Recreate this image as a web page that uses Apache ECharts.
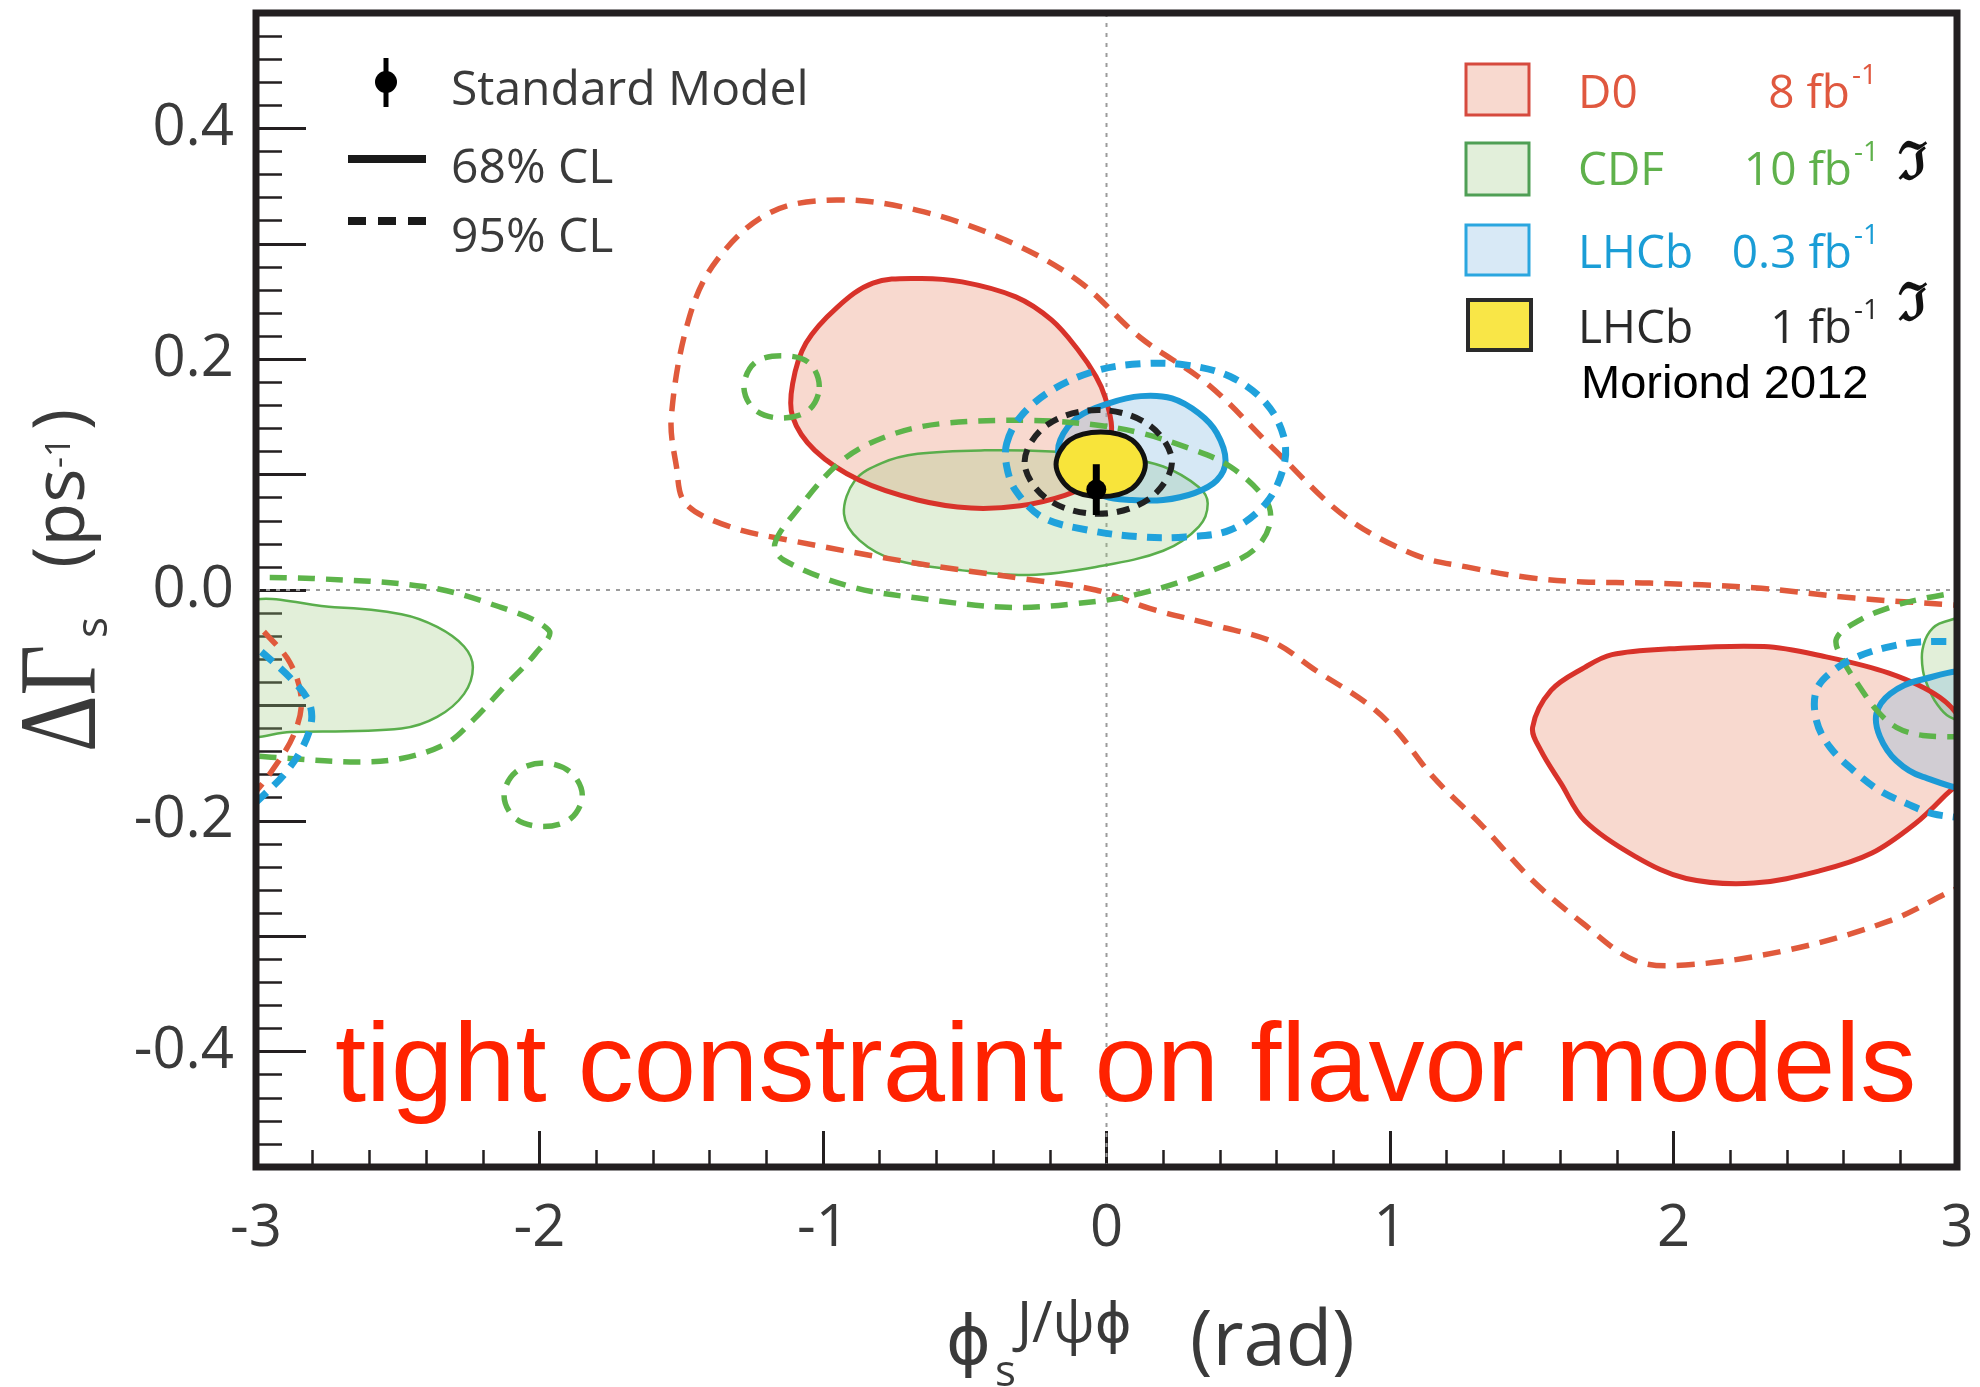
<!DOCTYPE html>
<html>
<head>
<meta charset="utf-8">
<script src="https://cdn.jsdelivr.net/npm/echarts/dist/echarts.min.js"></script>
<style>
  html, body { margin: 0; padding: 0; background: #ffffff; }
  #chart { width: 1980px; height: 1387px; }
</style>
</head>
<body>
<div id="chart"></div>
<script>
// ---------------- data ----------------
var xTickValues = [-3, -2, -1, 0, 1, 2, 3];
var yLabelValues = ['0.4', '0.2', '0.0', '-0.2', '-0.4'];

// Standard Model expectation
var smPoint = [-0.036, 0.087];
var smError = 0.022;

// D0 8 fb-1
var d0Cl68Upper = [[-0.666,0.270],[-0.509,0.267],[-0.320,0.254],[-0.194,0.234],[-0.100,0.208],[-0.037,0.185],[-0.005,0.167],[0.018,0.141],[0.000,0.115],[-0.060,0.093],[-0.147,0.082],[-0.304,0.073],[-0.478,0.071],[-0.666,0.078],[-0.871,0.095],[-1.029,0.121],[-1.107,0.150],[-1.107,0.179],[-1.060,0.214],[-0.950,0.245],[-0.824,0.266]];
var d0Cl68Lower = [[1.503,-0.119],[1.568,-0.087],[1.687,-0.067],[1.783,-0.056],[1.985,-0.051],[2.319,-0.049],[2.521,-0.057],[2.760,-0.072],[2.939,-0.093],[3.020,-0.118],[3.020,-0.160],[2.950,-0.180],[2.850,-0.203],[2.700,-0.228],[2.521,-0.243],[2.283,-0.254],[2.045,-0.250],[1.866,-0.231],[1.687,-0.200],[1.604,-0.168],[1.532,-0.139]];
var d0Cl95Main = [[3.050,-0.014],[2.987,-0.013],[2.639,-0.007],[2.283,0.002],[1.916,0.006],[1.681,0.007],[1.481,0.011],[1.270,0.020],[1.093,0.030],[0.845,0.063],[0.595,0.121],[0.359,0.178],[0.118,0.219],[-0.100,0.268],[-0.354,0.303],[-0.666,0.329],[-0.951,0.338],[-1.187,0.327],[-1.374,0.286],[-1.472,0.236],[-1.535,0.150],[-1.517,0.107],[-1.485,0.075],[-1.330,0.055],[-1.138,0.044],[-0.666,0.023],[-0.300,0.010],[-0.038,0.000],[0.152,-0.016],[0.388,-0.031],[0.587,-0.045],[0.740,-0.070],[0.917,-0.098],[1.023,-0.122],[1.152,-0.162],[1.328,-0.205],[1.504,-0.252],[1.681,-0.289],[1.864,-0.321],[2.042,-0.325],[2.403,-0.312],[2.759,-0.287],[2.987,-0.260],[3.050,-0.254]];
var d0Cl95Left = [[-3.050,-0.020],[-3.013,-0.027],[-2.965,-0.038],[-2.880,-0.063],[-2.840,-0.095],[-2.866,-0.125],[-2.942,-0.156],[-3.013,-0.178],[-3.050,-0.185]];

// CDF 10 fb-1
var cdfCl68Center = [[-0.926,0.066],[-0.887,0.095],[-0.793,0.110],[-0.666,0.118],[-0.430,0.121],[-0.194,0.120],[0.042,0.115],[0.200,0.107],[0.326,0.089],[0.357,0.075],[0.326,0.055],[0.200,0.034],[-0.037,0.020],[-0.273,0.013],[-0.509,0.017],[-0.745,0.026],[-0.871,0.043]];
var cdfCl68Left = [[-3.050,-0.015],[-2.723,-0.015],[-2.487,-0.021],[-2.361,-0.032],[-2.266,-0.049],[-2.235,-0.067],[-2.266,-0.090],[-2.361,-0.110],[-2.487,-0.120],[-2.880,-0.123],[-3.050,-0.123]];
var cdfCl68Right = [[3.050,-0.026],[2.951,-0.028],[2.904,-0.036],[2.878,-0.052],[2.880,-0.070],[2.898,-0.084],[2.927,-0.098],[2.974,-0.110],[3.050,-0.113]];
var cdfCl95Center = [[-1.170,0.040],[-1.092,0.069],[-0.934,0.112],[-0.777,0.133],[-0.588,0.144],[-0.273,0.147],[-0.037,0.143],[0.121,0.136],[0.278,0.124],[0.436,0.107],[0.562,0.078],[0.577,0.058],[0.530,0.037],[0.436,0.023],[0.121,-0.003],[-0.115,-0.012],[-0.352,-0.015],[-0.666,-0.007],[-0.903,0.003],[-1.139,0.026]];
var cdfCl95IslandA = [[-1.013,0.176],[-1.050,0.197],[-1.146,0.203],[-1.240,0.197],[-1.279,0.176],[-1.240,0.156],[-1.146,0.149],[-1.050,0.156]];
var cdfCl95IslandB = [[-1.849,-0.178],[-1.890,-0.158],[-1.987,-0.150],[-2.085,-0.158],[-2.125,-0.178],[-2.085,-0.198],[-1.987,-0.205],[-1.890,-0.198]];
var cdfCl95Left = [[-3.050,0.011],[-2.802,0.010],[-2.408,0.003],[-2.172,-0.012],[-1.967,-0.035],[-2.014,-0.055],[-2.125,-0.084],[-2.235,-0.113],[-2.329,-0.133],[-2.487,-0.146],[-2.644,-0.149],[-2.880,-0.146],[-3.050,-0.143]];
var cdfCl95Right = [[3.050,0.000],[2.869,-0.008],[2.764,-0.015],[2.657,-0.026],[2.575,-0.042],[2.598,-0.061],[2.657,-0.084],[2.716,-0.104],[2.786,-0.119],[2.880,-0.126],[3.050,-0.127]];

// LHCb 0.3 fb-1
var lhcb03Cl68Center = [[-0.163,0.130],[-0.100,0.150],[0.011,0.162],[0.121,0.168],[0.231,0.166],[0.326,0.153],[0.389,0.136],[0.420,0.112],[0.389,0.095],[0.310,0.084],[0.200,0.078],[0.089,0.078],[-0.005,0.081],[-0.100,0.095],[-0.163,0.112]];
var lhcb03Cl68Right = [[3.050,-0.075],[2.869,-0.078],[2.764,-0.090],[2.716,-0.107],[2.728,-0.127],[2.786,-0.148],[2.880,-0.162],[3.050,-0.168]];
var lhcb03Cl95Center = [[-0.352,0.127],[-0.304,0.150],[-0.194,0.173],[-0.037,0.190],[0.121,0.196],[0.278,0.195],[0.436,0.185],[0.562,0.162],[0.625,0.133],[0.625,0.107],[0.562,0.075],[0.436,0.052],[0.278,0.046],[0.121,0.046],[-0.068,0.052],[-0.226,0.063],[-0.320,0.086],[-0.352,0.107]];
var lhcb03Cl95Right = [[3.050,-0.045],[2.869,-0.045],[2.764,-0.049],[2.657,-0.057],[2.563,-0.070],[2.504,-0.087],[2.504,-0.113],[2.551,-0.136],[2.633,-0.156],[2.728,-0.174],[2.822,-0.185],[2.916,-0.194],[3.050,-0.198]];
var lhcb03Cl95Left = [[-3.050,-0.040],[-3.013,-0.047],[-2.960,-0.058],[-2.880,-0.076],[-2.817,-0.095],[-2.804,-0.113],[-2.835,-0.136],[-2.898,-0.159],[-2.978,-0.179],[-3.050,-0.195]];

// LHCb 1 fb-1
var lhcb1Cl68 = [[-0.178,0.109],[-0.130,0.130],[-0.020,0.137],[0.090,0.130],[0.137,0.109],[0.090,0.088],[-0.020,0.081],[-0.130,0.088]];
var lhcb1Cl95 = [[-0.289,0.111],[-0.210,0.143],[-0.029,0.156],[0.150,0.143],[0.231,0.111],[0.150,0.079],[-0.029,0.066],[-0.210,0.079]];

// zero reference lines
var zeroLineV = [[0, -0.5], [0, 0.5]];
var zeroLineH = [[-3, 0], [3, 0]];

// ---------------- styling ----------------
var SANS = "'Open Sans', 'DejaVu Sans', sans-serif";
var AX = '#231f20';
var C = {
  d0Fill: 'rgba(232,128,95,0.30)', d0Line: '#d8322a', d0Dash: '#e05a3c',
  cdfFill: 'rgba(158,202,128,0.30)', cdfLine: '#5aae4c', cdfDash: '#5db44a',
  lhFill: 'rgba(118,178,222,0.30)', lhLine: '#1c9ad6', lhDash: '#20a2dc',
  yellow: '#f8e43a'
};

function contour(pts, o) {
  return {
    type: 'custom',
    coordinateSystem: 'cartesian2d',
    clip: true,
    silent: true,
    z: o.z || 2,
    data: [pts[0]],
    encode: { x: 0, y: 1 },
    renderItem: function (params, api) {
      var p = pts.map(function (d) { return api.coord(d); });
      return {
        type: o.closed ? 'polygon' : 'polyline',
        shape: { points: p, smooth: o.smooth == null ? 0.35 : o.smooth },
        style: {
          fill: o.fill || 'none',
          stroke: o.stroke || 'none',
          lineWidth: o.width || 0,
          lineDash: o.dash || null,
          lineJoin: 'round'
        }
      };
    }
  };
}

function refLine(data) {
  return {
    type: 'line', data: data, symbol: 'none', silent: true, z: 1,
    lineStyle: { color: '#9c9c9c', width: 2, type: [4, 6] }
  };
}

var DASH_R = [18, 11], DASH_G = [17, 11], DASH_B = [15, 10];
var series = [
  refLine(zeroLineV),
  refLine(zeroLineH),
  // 68% filled regions
  contour(d0Cl68Upper, { closed: true, fill: C.d0Fill }),
  contour(d0Cl68Lower, { closed: true, fill: C.d0Fill }),
  contour(cdfCl68Center, { closed: true, fill: C.cdfFill }),
  contour(cdfCl68Left, { closed: true, fill: C.cdfFill }),
  contour(cdfCl68Right, { closed: true, fill: C.cdfFill }),
  contour(lhcb03Cl68Center, { closed: true, fill: C.lhFill }),
  contour(lhcb03Cl68Right, { closed: true, fill: C.lhFill }),
  // 68% outlines
  contour(cdfCl68Center, { closed: true, stroke: C.cdfLine, width: 2.5 }),
  contour(cdfCl68Left, { closed: true, stroke: C.cdfLine, width: 2.5 }),
  contour(cdfCl68Right, { closed: true, stroke: C.cdfLine, width: 2.5 }),
  contour(d0Cl68Upper, { closed: true, stroke: C.d0Line, width: 5 }),
  contour(d0Cl68Lower, { closed: true, stroke: C.d0Line, width: 5 }),
  contour(lhcb03Cl68Center, { closed: true, stroke: C.lhLine, width: 6 }),
  contour(lhcb03Cl68Right, { closed: true, stroke: C.lhLine, width: 6 }),
  // 95% dashed outlines
  contour(d0Cl95Main, { closed: false, stroke: C.d0Dash, width: 5.5, dash: DASH_R }),
  contour(d0Cl95Left, { closed: false, stroke: C.d0Dash, width: 5.5, dash: DASH_R }),
  contour(cdfCl95Center, { closed: true, stroke: C.cdfDash, width: 5.5, dash: DASH_G }),
  contour(cdfCl95IslandA, { closed: true, stroke: C.cdfDash, width: 5.5, dash: DASH_G }),
  contour(cdfCl95IslandB, { closed: true, stroke: C.cdfDash, width: 5.5, dash: DASH_G }),
  contour(cdfCl95Left, { closed: false, stroke: C.cdfDash, width: 5.5, dash: DASH_G }),
  contour(cdfCl95Right, { closed: false, stroke: C.cdfDash, width: 5.5, dash: DASH_G }),
  contour(lhcb03Cl95Center, { closed: true, stroke: C.lhDash, width: 7, dash: DASH_B }),
  contour(lhcb03Cl95Right, { closed: false, stroke: C.lhDash, width: 7, dash: DASH_B }),
  contour(lhcb03Cl95Left, { closed: false, stroke: C.lhDash, width: 7, dash: DASH_B }),
  // LHCb 1 fb-1
  contour(lhcb1Cl95, { closed: true, stroke: '#222222', width: 6, dash: [13, 9] }),
  contour(lhcb1Cl68, { closed: true, fill: C.yellow, stroke: '#111111', width: 5 }),
  // Standard Model point
  {
    type: 'custom', coordinateSystem: 'cartesian2d', silent: true, z: 5,
    data: [smPoint], encode: { x: 0, y: 1 },
    renderItem: function (params, api) {
      var c = api.coord(smPoint);
      var lo = api.coord([smPoint[0], smPoint[1] - smError]);
      var hi = api.coord([smPoint[0], smPoint[1] + smError]);
      return {
        type: 'group',
        children: [
          { type: 'line', shape: { x1: lo[0], y1: lo[1], x2: hi[0], y2: hi[1] }, style: { stroke: '#000', lineWidth: 7 } },
          { type: 'circle', shape: { cx: c[0], cy: c[1], r: 10 }, style: { fill: '#000' } }
        ]
      };
    }
  }
];

function txt(text, x, y, font, size, color, extra, weight) {
  var o = {
    type: 'text', x: x, y: y, z: 50, silent: true,
    style: { text: text, font: (weight ? weight + ' ' : '') + size + 'px ' + font, fill: color, align: 'left', verticalAlign: 'middle' }
  };
  if (extra) {
    for (var k in extra) {
      if (k === 'style') { for (var s in extra.style) o.style[s] = extra.style[s]; }
      else o[k] = extra[k];
    }
  }
  return o;
}

var GREY = '#3a3a3a';
var SERIF = "'Liberation Serif', 'DejaVu Serif', serif";
var ARIAL = "'Liberation Sans', Arial, sans-serif";
var DJ = "'DejaVu Sans', sans-serif";
var ROT = { rotation: Math.PI / 2 };
var RIGHT = { style: { align: 'right' } };

var graphics = [
  // ----- upper-left legend -----
  { type: 'line', z: 50, silent: true, shape: { x1: 386, y1: 58, x2: 386, y2: 107 }, style: { stroke: '#000', lineWidth: 5 } },
  { type: 'circle', z: 50, silent: true, shape: { cx: 386, cy: 82, r: 11 }, style: { fill: '#000' } },
  txt('Standard Model', 451, 105 - 0.285 * 48, SANS, 48, GREY),
  { type: 'line', z: 50, silent: true, shape: { x1: 348, y1: 159, x2: 426, y2: 159 }, style: { stroke: '#1a1a1a', lineWidth: 8 } },
  txt('68% CL', 451, 183 - 0.285 * 48, SANS, 48, GREY),
  { type: 'line', z: 50, silent: true, shape: { x1: 348, y1: 221, x2: 426, y2: 221 }, style: { stroke: '#1a1a1a', lineWidth: 8, lineDash: [18, 12] } },
  txt('95% CL', 451, 252 - 0.285 * 48, SANS, 48, GREY),

  // ----- upper-right legend -----
  { type: 'rect', z: 50, silent: true, shape: { x: 1466, y: 64, width: 63, height: 51 }, style: { fill: '#f8d9cf', stroke: '#d64a3e', lineWidth: 3 } },
  { type: 'rect', z: 50, silent: true, shape: { x: 1466, y: 143, width: 63, height: 52 }, style: { fill: '#e2efda', stroke: '#4f9f55', lineWidth: 3 } },
  { type: 'rect', z: 50, silent: true, shape: { x: 1466, y: 225, width: 63, height: 50 }, style: { fill: '#d8e9f6', stroke: '#2aa6df', lineWidth: 3 } },
  { type: 'rect', z: 50, silent: true, shape: { x: 1468, y: 300, width: 63, height: 50 }, style: { fill: '#f9e647', stroke: '#2a2a2a', lineWidth: 4 } },

  txt('D0', 1578, 108 - 0.285 * 46, SANS, 46, '#e0583f'),
  txt('8 fb', 1850, 108 - 0.285 * 46, SANS, 46, '#e0583f', RIGHT),
  txt('-1', 1852, 84 - 0.285 * 28, SANS, 28, '#e0583f'),

  txt('CDF', 1578, 185 - 0.285 * 46, SANS, 46, '#5fb14b'),
  txt('10 fb', 1852, 185 - 0.285 * 46, SANS, 46, '#5fb14b', RIGHT),
  txt('-1', 1854, 161 - 0.285 * 28, SANS, 28, '#5fb14b'),
  txt('\u2111', 1898, 181 - 0.305 * 52, SERIF, 52, '#111', null, 'bold'),

  txt('LHCb', 1578, 268 - 0.285 * 46, SANS, 46, '#1a9dd6'),
  txt('0.3 fb', 1852, 268 - 0.285 * 46, SANS, 46, '#1a9dd6', RIGHT),
  txt('-1', 1854, 244 - 0.285 * 28, SANS, 28, '#1a9dd6'),

  txt('LHCb', 1578, 343 - 0.285 * 46, SANS, 46, '#2a2a2a'),
  txt('1 fb', 1852, 343 - 0.285 * 46, SANS, 46, '#2a2a2a', RIGHT),
  txt('-1', 1854, 319 - 0.285 * 28, SANS, 28, '#2a2a2a'),
  txt('\u2111', 1898, 322 - 0.305 * 52, SERIF, 52, '#111', null, 'bold'),

  txt('Moriond 2012', 1581, 400 - 0.31 * 47, ARIAL, 47, '#000'),

  // ----- annotation -----
  txt('tight constraint on flavor models', 335, 1105 - 0.31 * 112, ARIAL, 112, '#ff2200'),

  // ----- x axis title -----
  txt('\u03D5', 946, 1367 - 0.297 * 68, DJ, 68, GREY),
  txt('s', 995, 1386 - 0.285 * 44, SANS, 44, GREY),
  txt('J/\u03C8\u03D5', 1017, 1342 - 0.285 * 56, SANS, 56, GREY),
  txt('(rad)', 1190, 1365 - 0.285 * 76, SANS, 76, GREY),

  // ----- y axis title (rotated, reading bottom to top) -----
  txt('\u0394\u0393', 100 - 0.305 * 110, 752, SERIF, 110, GREY, { rotation: Math.PI / 2, scaleX: 0.8 }),
  txt('s', 107 - 0.285 * 44, 638, SANS, 44, GREY, ROT),
  txt('(ps', 84 - 0.285 * 72, 568, SANS, 72, GREY, ROT),
  txt('-1', 70 - 0.285 * 34, 468, SANS, 34, GREY, ROT),
  txt(')', 84 - 0.285 * 72, 430, SANS, 72, GREY, ROT)
];

var chart = echarts.init(document.getElementById('chart'), null, { renderer: 'canvas' });
chart.setOption({
  animation: false,
  backgroundColor: '#ffffff',
  grid: {
    left: 256, right: 23, top: 13, bottom: 220,
    show: true, z: 10, borderColor: AX, borderWidth: 7, backgroundColor: 'transparent',
    containLabel: false, outerBoundsMode: 'none'
  },
  xAxis: {
    type: 'value', min: -3, max: 3, interval: 1, position: 'bottom',
    axisLine: { show: false, onZero: false },
    splitLine: { show: false },
    axisTick: { show: true, inside: true, length: 36, lineStyle: { color: AX, width: 3 } },
    minorTick: { show: true, splitNumber: 5, length: 17, lineStyle: { color: AX, width: 2.5 } },
    minorSplitLine: { show: false },
    axisLabel: {
      show: true, margin: 62, verticalAlign: 'middle', color: GREY, fontSize: 58, fontFamily: SANS,
      showMinLabel: true, showMaxLabel: true,
      formatter: function (v) {
        var r = Math.round(v);
        return xTickValues.indexOf(r) >= 0 ? String(r) : '';
      }
    }
  },
  yAxis: {
    type: 'value', min: -0.5, max: 0.5, interval: 0.1, position: 'left',
    axisLine: { show: false, onZero: false },
    splitLine: { show: false },
    axisTick: { show: true, inside: true, length: 50, lineStyle: { color: AX, width: 3 } },
    minorTick: { show: true, splitNumber: 5, length: 26, lineStyle: { color: AX, width: 2.5 } },
    minorSplitLine: { show: false },
    axisLabel: {
      show: true, margin: 22, color: GREY, fontSize: 58, fontFamily: SANS,
      formatter: function (v) {
        var s = (Math.abs(v) < 1e-9 ? 0 : v).toFixed(1);
        return yLabelValues.indexOf(s) >= 0 ? s : '';
      }
    }
  },
  series: series,
  graphic: graphics
});
</script>
</body>
</html>
